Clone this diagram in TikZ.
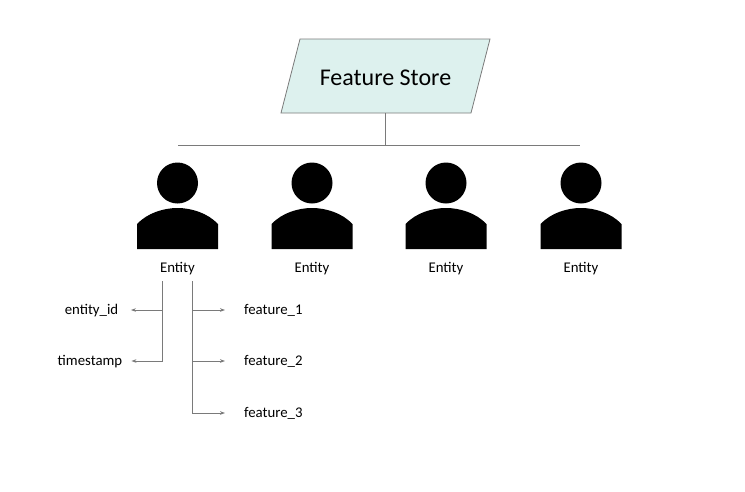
\documentclass[tikz,border=0pt]{standalone}
\usepackage{fontspec}
\setmainfont{Carlito}
\usetikzlibrary{arrows.meta}
\definecolor{storefill}{HTML}{DDF1EE}
\definecolor{linegray}{HTML}{7A7A7A}
\tikzset{
  link/.style={draw=linegray,line width=0.8pt},
  linkarrow/.style={link,-{Stealth[length=5pt,width=3.6pt]}},
  tag/.style={inner sep=0pt,text height=11pt,text depth=3pt,font=\fontsize{14.8}{16}\selectfont},
}
\begin{document}
\begin{tikzpicture}[x=1pt,y=-1pt]
    \useasboundingbox (0,0) rectangle (745,491);

    % feature store
    \fill[storefill,draw=linegray,line width=0.8pt] (300,39) -- (490,39) -- (471,113) -- (281,113) -- cycle;
    \node[minimum width=190pt,minimum height=70pt,inner sep=0pt,font=\fontsize{24}{28}\selectfont] (store) at (385.5,78) {Feature Store};

    \coordinate (busL) at (178,145.5);
    \coordinate (busR) at (580,145.5);
    \draw[link] (busL) -- (busR);
    \draw[link] (store.south) -- (store.south |- busL);

    % entities
    \foreach \x/\n in {177.5/a,312/b,446/c,581/d}{
        \fill (\x,183) circle (20.5);
        \fill (\x-40.5,249) -- (\x-40.5,224) .. controls (\x-30,213) and (\x-14,208) .. (\x,208)
              .. controls (\x+14,208) and (\x+30,213) .. (\x+40.5,224) -- (\x+40.5,249) -- cycle;
        \node[tag] (entity\n) at (\x,268.5) {Entity};
    }

    % left side
    \node[tag] (entityid) at (91.5,310) {entity\_id};
    \node[tag] (timestamp) at (90,361) {timestamp};
    \coordinate (spineL) at (162.7,281);
    \draw[linkarrow] (spineL |- entityid) -- ([xshift=12.5pt]entityid.east);
    \draw[linkarrow] (spineL) |- ([xshift=9pt]timestamp.east);

    % right side
    \coordinate (spineR) at (192.5,281);
    \foreach \i/\y in {1/310,2/361,3/413}{
        \node[tag,anchor=west] (feature\i) at (244,\y) {feature\_\i};
    }
    \draw[linkarrow] (spineR |- feature1) -- ([xshift=-19pt]feature1.west);
    \draw[linkarrow] (spineR |- feature2) -- ([xshift=-19pt]feature2.west);
    \draw[linkarrow] (spineR) |- ([xshift=-19pt]feature3.west);

\end{tikzpicture}
\end{document}
